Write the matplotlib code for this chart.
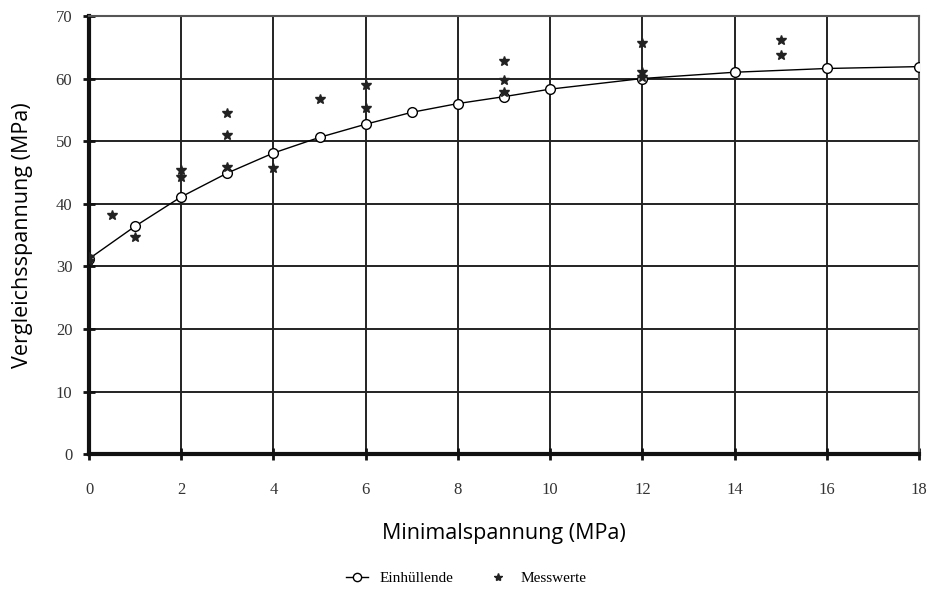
import matplotlib.pyplot as plt

# Einhüllende (envelope)
env_x = [0, 1, 2, 3, 4, 5, 6, 7, 8, 9, 10, 12, 14, 16, 18]
env_y = [31.2, 36.4, 41.1, 44.9, 48.1, 50.6, 52.7, 54.6, 56.0, 57.1, 58.3, 60.0, 61.0, 61.6, 61.9]

# Messwerte (measurements)
mess_x = [0, 0, 0.5, 1, 2, 2, 3, 3, 3, 4, 5, 6, 6, 9, 9, 9, 12, 12, 12, 15, 15]
mess_y = [31.5, 30.8, 38.2, 34.7, 45.4, 44.3, 54.5, 51.0, 45.9, 45.7, 56.7, 59.0, 55.3,
          62.8, 59.7, 57.8, 65.6, 61.0, 60.3, 66.1, 63.7]

xticks = [0, 2, 4, 6, 8, 10, 12, 14, 16, 18]
yticks = [0, 10, 20, 30, 40, 50, 60, 70]

fig = plt.figure(figsize=(9.33, 5.89), dpi=100)
ax = fig.add_axes([0.0954, 0.229, 0.8896, 0.744])

ax.plot(env_x, env_y, color='black', lw=1.0, marker='o', ms=7,
        mfc='white', mec='black', mew=1.0, label='Einhüllende', zorder=4)
ax.plot(mess_x, mess_y, ls='none', marker='*', ms=7, color='#222222',
        label='Messwerte', zorder=5)

ax.set_xlim(0, 18)
ax.set_ylim(0, 70)
ax.set_xticks(xticks)
ax.set_yticks(yticks)
ax.grid(True, color='#222222', lw=1.4)
ax.set_axisbelow(True)

for s in ['left', 'bottom']:
    ax.spines[s].set_linewidth(3)
    ax.spines[s].set_color('#111111')
for s in ['top', 'right']:
    ax.spines[s].set_linewidth(1.5)
    ax.spines[s].set_color('#555555')

ax.tick_params(direction='inout', length=8, width=2, color='#111111',
               labelsize=12, pad=16)
for lab in ax.get_xticklabels() + ax.get_yticklabels():
    lab.set_family('Liberation Serif')
    lab.set_color('#333333')
ax.tick_params(axis='y', pad=8)

ax.set_xlabel('Minimalspannung (MPa)', family='Open Sans', fontsize=15.5, labelpad=18)
ax.set_ylabel('Vergleichsspannung (MPa)', family='Open Sans', fontsize=15.5, labelpad=16)

leg = fig.legend(loc='lower center', bbox_to_anchor=(0.5, -0.017), ncol=2, frameon=False,
                 prop={'family': 'Liberation Serif', 'size': 11}, handlelength=1.4,
                 columnspacing=2.2, markerscale=0.85)

fig.savefig('out.png', dpi=100)
